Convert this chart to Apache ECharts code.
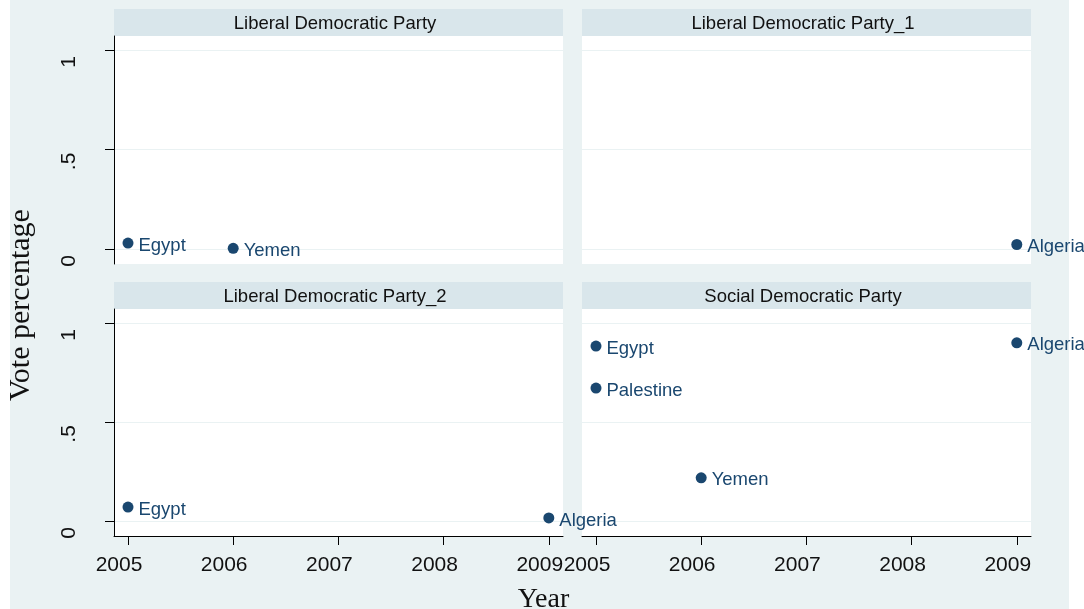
<!DOCTYPE html>
<html>
<head>
<meta charset="utf-8">
<script src="https://cdn.jsdelivr.net/npm/echarts@6/dist/echarts.min.js"></script>
<style>
  html, body { margin: 0; padding: 0; background: #ffffff; }
  #chart { width: 1084px; height: 609px; }
</style>
</head>
<body>
<div id="chart"></div>
<script>
// Panel titles (one facet per party)
const panelTitles = [
  'Liberal Democratic Party',
  'Liberal Democratic Party_1',
  'Liberal Democratic Party_2',
  'Social Democratic Party'
];

// Axis ticks
const yearTicks = [2005, 2006, 2007, 2008, 2009];
const voteTicks = [0, 0.5, 1];
const voteTickLabels = ['0', '.5', '1'];

// Liberal Democratic Party
const ldpCountries = ['Egypt', 'Yemen'];
const ldpYears = [2005, 2006];
const ldpVotes = [0.029, 0.003];

// Liberal Democratic Party_1
const ldp1Countries = ['Algeria'];
const ldp1Years = [2009];
const ldp1Votes = [0.022];

// Liberal Democratic Party_2
const ldp2Countries = ['Egypt', 'Algeria'];
const ldp2Years = [2005, 2009];
const ldp2Votes = [0.070, 0.015];

// Social Democratic Party
const sdpCountries = ['Egypt', 'Palestine', 'Yemen', 'Algeria'];
const sdpYears = [2005, 2005, 2006, 2009];
const sdpVotes = [0.883, 0.671, 0.218, 0.899];

const panelData = [
  [ldpCountries, ldpYears, ldpVotes],
  [ldp1Countries, ldp1Years, ldp1Votes],
  [ldp2Countries, ldp2Years, ldp2Votes],
  [sdpCountries, sdpYears, sdpVotes]
];

const SANS = '"Liberation Sans", Arial, sans-serif';
const SERIF = '"Liberation Serif", "Times New Roman", serif';
const MARK = '#1a476f';
const BG = '#eaf2f3';
const STRIP = '#d9e6eb';

// Panel layout
const cols = [114, 582];
const rows = [36, 309];
const plotW = 449;
const plotH = [228, 227];
const stripH = 27;

const grids = [], xAxes = [], yAxes = [], series = [];
const strips = [];

for (let i = 0; i < 4; i++) {
  const c = i % 2, r = Math.floor(i / 2);
  const left = cols[c], top = rows[r], h = plotH[r];
  grids.push({
    left: left, top: top, width: plotW, height: h,
    show: true, backgroundColor: '#ffffff', borderWidth: 0, containLabel: false
  });
  // title strip above each panel
  strips.push({
    type: 'rect', silent: true, z: 0,
    shape: { x: left, y: top - stripH, width: plotW, height: stripH },
    style: { fill: STRIP }
  });
  strips.push({
    type: 'text', silent: true, z: 1,
    x: left + plotW / 2 - 3.5, y: top - stripH / 2 + 1,
    style: {
      text: panelTitles[i], fontFamily: SANS, fontSize: 18.5,
      fill: '#111', align: 'center', verticalAlign: 'middle'
    }
  });
  const bottomRow = r === 1;
  xAxes.push({
    gridIndex: i, type: 'value', min: 2004.867, max: 2009.135,
    axisLine: { show: bottomRow, onZero: false, lineStyle: { color: '#000', width: 1 } },
    axisTick: { show: bottomRow, customValues: yearTicks, length: 9, lineStyle: { color: '#000' } },
    axisLabel: {
      show: bottomRow, customValues: yearTicks, margin: 19,
      padding: [0, 18, 0, 0],
      fontFamily: SANS, fontSize: 21, color: '#111',
      formatter: v => String(v)
    },
    splitLine: { show: false }
  });
  const leftCol = c === 0;
  yAxes.push({
    gridIndex: i, type: 'value', min: -0.076, max: 1.07,
    axisLine: { show: leftCol, onZero: false, lineStyle: { color: '#000', width: 1 } },
    axisTick: { show: leftCol, customValues: voteTicks, length: 9, lineStyle: { color: '#000' } },
    axisLabel: {
      show: leftCol, customValues: voteTicks, rotate: 90, margin: 34,
      padding: [0, 24, 0, 0],
      fontFamily: SANS, fontSize: 21, color: '#111',
      formatter: v => voteTickLabels[voteTicks.indexOf(v)] ?? ''
    },
    splitLine: { show: true, lineStyle: { color: BG, width: 1 } }
  });
  const [names, yrs, votes] = panelData[i];
  series.push({
    type: 'scatter', xAxisIndex: i, yAxisIndex: i,
    symbol: 'circle', symbolSize: 11,
    itemStyle: { color: MARK, opacity: 1 },
    label: {
      show: true, position: [16, 8], align: 'left', verticalAlign: 'middle',
      fontFamily: SANS, fontSize: 18.5, color: MARK,
      formatter: p => p.data[2]
    },
    labelLayout: { hideOverlap: false },
    clip: false,
    z: 5,
    data: yrs.map((y, k) => [y, votes[k], names[k]])
  });
}

const chart = echarts.init(document.getElementById('chart'), null, { renderer: 'canvas' });
chart.setOption({
  animation: false,
  backgroundColor: '#ffffff',
  grid: grids,
  xAxis: xAxes,
  yAxis: yAxes,
  series: series,
  graphic: [
    {
      type: 'rect', silent: true, z: -10,
      shape: { x: 10, y: 0, width: 1059, height: 609 },
      style: { fill: BG }
    },
    ...strips,
    {
      type: 'text', silent: true, z: 10,
      x: 21, y: 305, rotation: Math.PI / 2,
      style: {
        text: 'Vote percentage', fontFamily: SERIF, fontSize: 30,
        fill: '#111', align: 'center', verticalAlign: 'middle'
      }
    },
    {
      type: 'text', silent: true, z: 10,
      x: 543.5, y: 600,
      style: {
        text: 'Year', fontFamily: SERIF, fontSize: 28,
        fill: '#111', align: 'center', verticalAlign: 'middle'
      }
    }
  ]
});
</script>
</body>
</html>
